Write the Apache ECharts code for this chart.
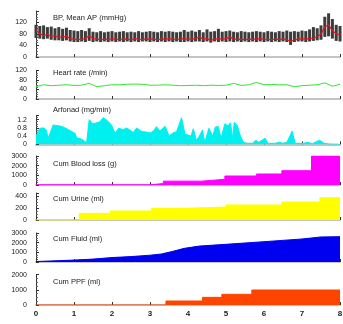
<!DOCTYPE html>
<html>
<head>
<meta charset="utf-8">
<script src="https://cdn.jsdelivr.net/npm/echarts@6/dist/echarts.min.js"></script>
<style>
  html, body { margin: 0; padding: 0; background: #fff; }
  #chart { width: 343px; height: 324px; }
</style>
</head>
<body>
<div id="chart"></div>
<script>
// time axis (h)
const hours = [0, 1, 2, 3, 4, 5, 6, 7, 8];

// BP, sampled every 0.1 h
const bpTime = [0,0.1,0.2,0.3,0.4,0.5,0.6,0.7,0.8,0.9,1,1.1,1.2,1.3,1.4,1.5,1.6,1.7,1.8,1.9,2,2.1,2.2,2.3,2.4,2.5,2.6,2.7,2.8,2.9,3,3.1,3.2,3.3,3.4,3.5,3.6,3.7,3.8,3.9,4,4.1,4.2,4.3,4.4,4.5,4.6,4.7,4.8,4.9,5,5.1,5.2,5.3,5.4,5.5,5.6,5.7,5.8,5.9,6,6.1,6.2,6.3,6.4,6.5,6.6,6.7,6.8,6.9,7,7.1,7.2,7.3,7.4,7.5,7.6,7.7,7.8,7.9,8];
const bpSys = [112,108,110,104,106,100,104,98,102,94,92,90,94,90,100,88,86,90,86,88,90,86,88,90,86,88,86,90,86,88,90,88,86,90,88,90,88,86,88,94,88,92,88,94,86,96,88,90,98,88,90,92,88,86,90,88,86,88,90,88,86,90,88,86,90,88,92,88,90,88,92,90,96,104,100,110,140,152,132,112,108];
const bpDia = [66,64,62,64,60,58,58,56,58,54,52,52,54,52,56,52,54,52,54,52,54,52,54,52,54,52,54,52,54,54,52,54,52,54,52,54,52,54,52,52,54,52,54,54,52,54,50,54,52,54,52,54,52,54,52,54,52,54,52,54,52,54,52,54,52,54,52,42,52,54,54,52,54,56,58,60,70,72,64,56,54];
const bpMean = [92,82,74,78,72,74,68,70,72,64,62,60,62,64,75,64,62,60,62,61,64,62,60,63,62,60,64,62,61,62,63,62,60,63,62,64,62,61,62,64,62,62,64,70,62,64,58,62,64,62,64,70,63,61,62,60,62,61,63,64,62,61,60,62,61,63,60,55,60,62,64,62,64,66,70,80,104,112,92,80,76];

// heart rate, every 0.2 h
const hrTime = [0,0.2,0.4,0.6,0.8,1,1.2,1.4,1.6,1.8,2,2.2,2.4,2.6,2.8,3,3.2,3.4,3.6,3.8,4,4.2,4.4,4.6,4.8,5,5.2,5.4,5.6,5.8,6,6.2,6.4,6.6,6.8,7,7.2,7.4,7.6,7.8,8];
const hrVal = [52,60,56,58,60,57,58,66,52,56,60,60,62,63,62,58,58,60,58,56,57,58,56,58,57,58,66,57,60,70,60,61,60,60,52,56,58,60,68,54,62];

// Arfonad (mg/min)
const arfTime = [0,0.1,0.2,0.27,0.32,0.45,0.6,0.7,0.85,0.94,1.03,1.07,1.2,1.28,1.33,1.38,1.4,1.5,1.6,1.68,1.77,1.86,1.99,2.08,2.17,2.3,2.38,2.47,2.56,2.65,2.78,2.91,3,3.09,3.17,3.26,3.4,3.5,3.6,3.7,3.83,3.92,4,4.08,4.14,4.22,4.3,4.38,4.44,4.48,4.55,4.65,4.72,4.8,4.87,4.97,5.05,5.12,5.17,5.22,5.3,5.38,5.46,5.55,5.7,5.78,5.86,5.95,6.03,6.1,6.3,6.4,6.5,6.6,6.68,6.74,6.82,7.05,7.15,7.27,7.4,7.46,7.58,7.7,8];
const arfVal = [0.4,0.78,0.8,0.7,0.3,0.94,0.9,0.86,0.72,0.62,0.53,0.32,0.25,0.16,0.05,0,1.2,1.0,1.05,1.1,1.3,1.18,0.94,0.53,0.78,0.72,0.8,0.7,0.58,0.8,0.62,0.6,0.55,0.65,0.86,0.65,0.88,0.4,0.55,0.62,1.3,0.5,0.45,0.4,0.76,0.2,0.4,0.7,0.1,0.05,0.78,0.4,0.85,0.86,0.3,1.0,0.9,1.05,0.3,1.08,0.9,0.4,0.1,0.05,0.05,0.2,0.1,0.2,0.3,0.05,0.05,0.1,0.05,0.1,0.4,0.65,0.05,0.05,0.1,0.03,0.15,0.2,0.05,0.02,0];

// cumulative blood loss (g), step levels
const bloodTime = [0, 3.0, 3.35, 4.36, 4.97, 5.8, 6.47, 7.25, 8];
const bloodVal = [20, 150, 400, 590, 930, 1140, 1480, 3000, 3000];

// cumulative urine (ml)
const urineTime = [0, 1.14, 1.95, 3.04, 3.6, 5.0, 6.47, 7.47, 8];
const urineVal = [0, 110, 150, 190, 215, 250, 300, 372, 372];

// cumulative fluid (ml)
const fluidTime = [0, 0.5, 1, 1.5, 2, 2.5, 3, 3.3, 3.6, 3.9, 4.3, 5, 6, 7, 7.5, 8];
const fluidVal = [50, 120, 200, 300, 460, 560, 700, 830, 1100, 1410, 1650, 1830, 2100, 2380, 2590, 2620];

// cumulative PPF (ml)
const ppfTime = [0, 3.42, 4.38, 4.89, 5.68, 8];
const ppfVal = [0, 264, 505, 703, 990, 990];

// tick labels per panel
const bpTicks = ['0', '40', '80', '120'];
const hrTicks = ['0', '40', '80', '120'];
const arfTicks = ['0', '0.4', '0.8', '1.2'];
const bloodTicks = ['0', '1000', '2000', '3000'];
const urineTicks = ['0', '200', '400'];
const fluidTicks = ['0', '1000', '2000', '3000'];
const ppfTicks = ['0', '1000', '2000'];

const titles = ['BP, Mean AP (mmHg)', 'Heart rate (/min)', 'Arfonad (mg/min)', 'Cum Blood loss (g)', 'Cum Urine (ml)', 'Cum Fluid (ml)', 'Cum PPF (ml)'];

const FONT = "'Liberation Sans', Arial, sans-serif";
const zip = (a, b) => a.map((t, i) => [t, b[i]]);

// panel boxes: [top, height] in px
const boxes = [[11, 46], [70.5, 28.5], [115.6, 28.7], [156, 29], [193, 27], [233, 29], [274.7, 30.3]];
const titleY = [14, 69, 106, 160, 195, 235, 278];
const yCfg = [
  { max: 160, interval: 40, ticks: bpTicks },
  { max: 120, interval: 40, ticks: hrTicks },
  { max: 1.4, interval: 0.4, ticks: arfTicks },
  { max: 3000, interval: 1000, ticks: bloodTicks },
  { max: 450, interval: 200, ticks: urineTicks },
  { max: 3000, interval: 1000, ticks: fluidTicks },
  { max: 2000, interval: 1000, ticks: ppfTicks }
];

const chart = echarts.init(document.getElementById('chart'));

const grid = boxes.map(b => ({ left: 36, right: 3, top: b[0], height: b[1], outerBoundsMode: 'none' }));

const xAxis = boxes.map((b, i) => ({
  type: 'value', gridIndex: i, min: 0, max: 8, interval: 1,
  axisLine: { lineStyle: { color: '#c4c4c4', width: 2 } },
  axisTick: { show: true, inside: true, length: 3, lineStyle: { color: '#333' } },
  splitLine: { show: false },
  axisLabel: {
    show: i === 6, fontSize: 8, color: '#222', margin: 5, fontFamily: FONT, fontWeight: 'bold',
    formatter: v => hours.includes(v) ? String(v) : ''
  },
  name: i === 6 ? 'Time (h)' : '',
  nameLocation: 'middle', nameGap: 19,
  nameTextStyle: { fontSize: 8, color: '#222', fontFamily: FONT }
}));

const yAxis = yCfg.map((c, i) => ({
  type: 'value', gridIndex: i, min: 0, max: c.max, interval: c.interval,
  axisLine: { show: true, lineStyle: { color: '#333', width: 1 } },
  axisTick: { show: true, inside: true, length: 3, lineStyle: { color: '#333' } },
  minorTick: { show: true, splitNumber: 4, length: 2, lineStyle: { color: '#666' } },
  splitLine: { show: false },
  axisLabel: {
    fontSize: 7, color: '#222', margin: 9, fontFamily: FONT,
    formatter: v => {
      const s = String(+v.toFixed(2));
      return c.ticks.includes(s) ? s : '';
    }
  }
}));

const title = titles.map((t, i) => ({
  text: t, left: 53, top: titleY[i], padding: 0,
  textStyle: { fontSize: 7.5, fontWeight: 'normal', color: '#222', fontFamily: FONT }
}));

function area(i, data, color, step) {
  return {
    type: 'line', xAxisIndex: i, yAxisIndex: i, data: data, step: step || false,
    symbol: 'none', lineStyle: { color: color, width: 1 },
    areaStyle: { color: color, opacity: 1 }, z: 1
  };
}

const series = [
  {
    // systolic / diastolic range as thin vertical bars
    type: 'custom', xAxisIndex: 0, yAxisIndex: 0,
    data: bpTime.map((t, i) => [t, bpDia[i], bpSys[i]]),
    encode: { x: 0, y: [1, 2] },
    renderItem: (params, api) => {
      const lo = api.coord([api.value(0), api.value(1)]);
      const hi = api.coord([api.value(0), api.value(2)]);
      return {
        type: 'rect',
        shape: { x: lo[0] - 1.5, y: hi[1], width: 3, height: lo[1] - hi[1] },
        style: { fill: '#3c3c3c' }
      };
    }
  },
  {
    type: 'line', xAxisIndex: 0, yAxisIndex: 0, data: zip(bpTime, bpMean),
    symbol: 'none', lineStyle: { color: '#e8141c', width: 1.2 }, z: 5
  },
  {
    type: 'line', xAxisIndex: 1, yAxisIndex: 1, data: zip(hrTime, hrVal),
    symbol: 'none', lineStyle: { color: '#2ee82e', width: 1 }
  },
  area(2, zip(arfTime, arfVal), '#00f0f0'),
  area(3, zip(bloodTime, bloodVal), '#ff00ff', 'end'),
  area(4, zip(urineTime, urineVal), '#ffff00', 'end'),
  area(5, zip(fluidTime, fluidVal), '#0000f0'),
  area(6, zip(ppfTime, ppfVal), '#ff4400', 'end')
];

chart.setOption({
  animation: false,
  backgroundColor: '#fff',
  title: title,
  grid: grid,
  xAxis: xAxis,
  yAxis: yAxis,
  series: series
});
</script>
</body>
</html>
